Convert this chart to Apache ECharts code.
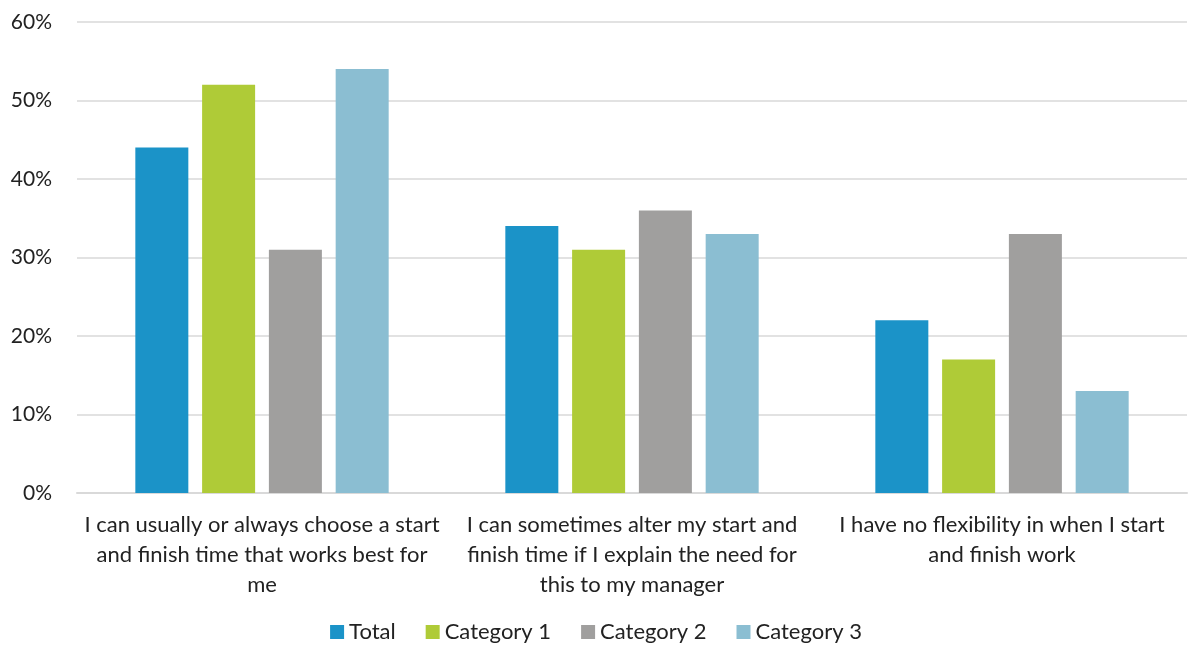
<!DOCTYPE html>
<html><head><meta charset="utf-8">
<script src="https://cdn.jsdelivr.net/npm/echarts@6/dist/echarts.min.js"></script>
<style>html,body{margin:0;padding:0;background:#fff}#c{width:1192px;height:646px}</style>
</head><body><div id="c"></div>
<script>
const categories = [
  "I can usually or always choose a start\nand finish time that works best for\nme",
  "I can sometimes alter my start and\nfinish time if I explain the need for\nthis to my manager",
  "I have no flexibility in when I start\nand finish work"
];
const seriesNames = ["Total", "Category 1", "Category 2", "Category 3"];
const total = [44, 34, 22];
const category1 = [52, 31, 17];
const category2 = [31, 36, 33];
const category3 = [54, 33, 13];
const colors = ["#1b93c8", "#afcb37", "#a09f9e", "#8bbed2"];
const values = [total, category1, category2, category3];

const font = "Lato, 'Open Sans', sans-serif";
const chart = echarts.init(document.getElementById('c'));
chart.setOption({
  animation: false,
  textStyle: {fontFamily: font},
  grid: {left: 77, right: 5, top: 22, bottom: 153, containLabel: false},
  legend: {
    bottom: -2, left: 'center', itemWidth: 14, itemHeight: 14, itemGap: 30,
    icon: 'rect',
    textStyle: {fontSize: 22, color: '#222', fontFamily: font},
    data: seriesNames
  },
  xAxis: {
    type: 'category', data: categories,
    axisTick: {show: false},
    axisLine: {lineStyle: {color: '#d9d9d9', width: 2}},
    axisLabel: {fontSize: 22, color: '#222', lineHeight: 30, margin: 17, interval: 0, fontFamily: font}
  },
  yAxis: {
    type: 'value', min: 0, max: 60, interval: 10,
    axisLabel: {formatter: '{value}%', fontSize: 21, color: '#222', margin: 25, fontFamily: font},
    splitLine: {lineStyle: {color: '#d9d9d9', width: 1.5}},
    axisLine: {show: false}, axisTick: {show: false}
  },
  series: seriesNames.map((n, i) => ({
    name: n, type: 'bar', data: values[i], barWidth: 53, barGap: '26%',
    itemStyle: {color: colors[i]}
  }))
});
</script></body></html>
